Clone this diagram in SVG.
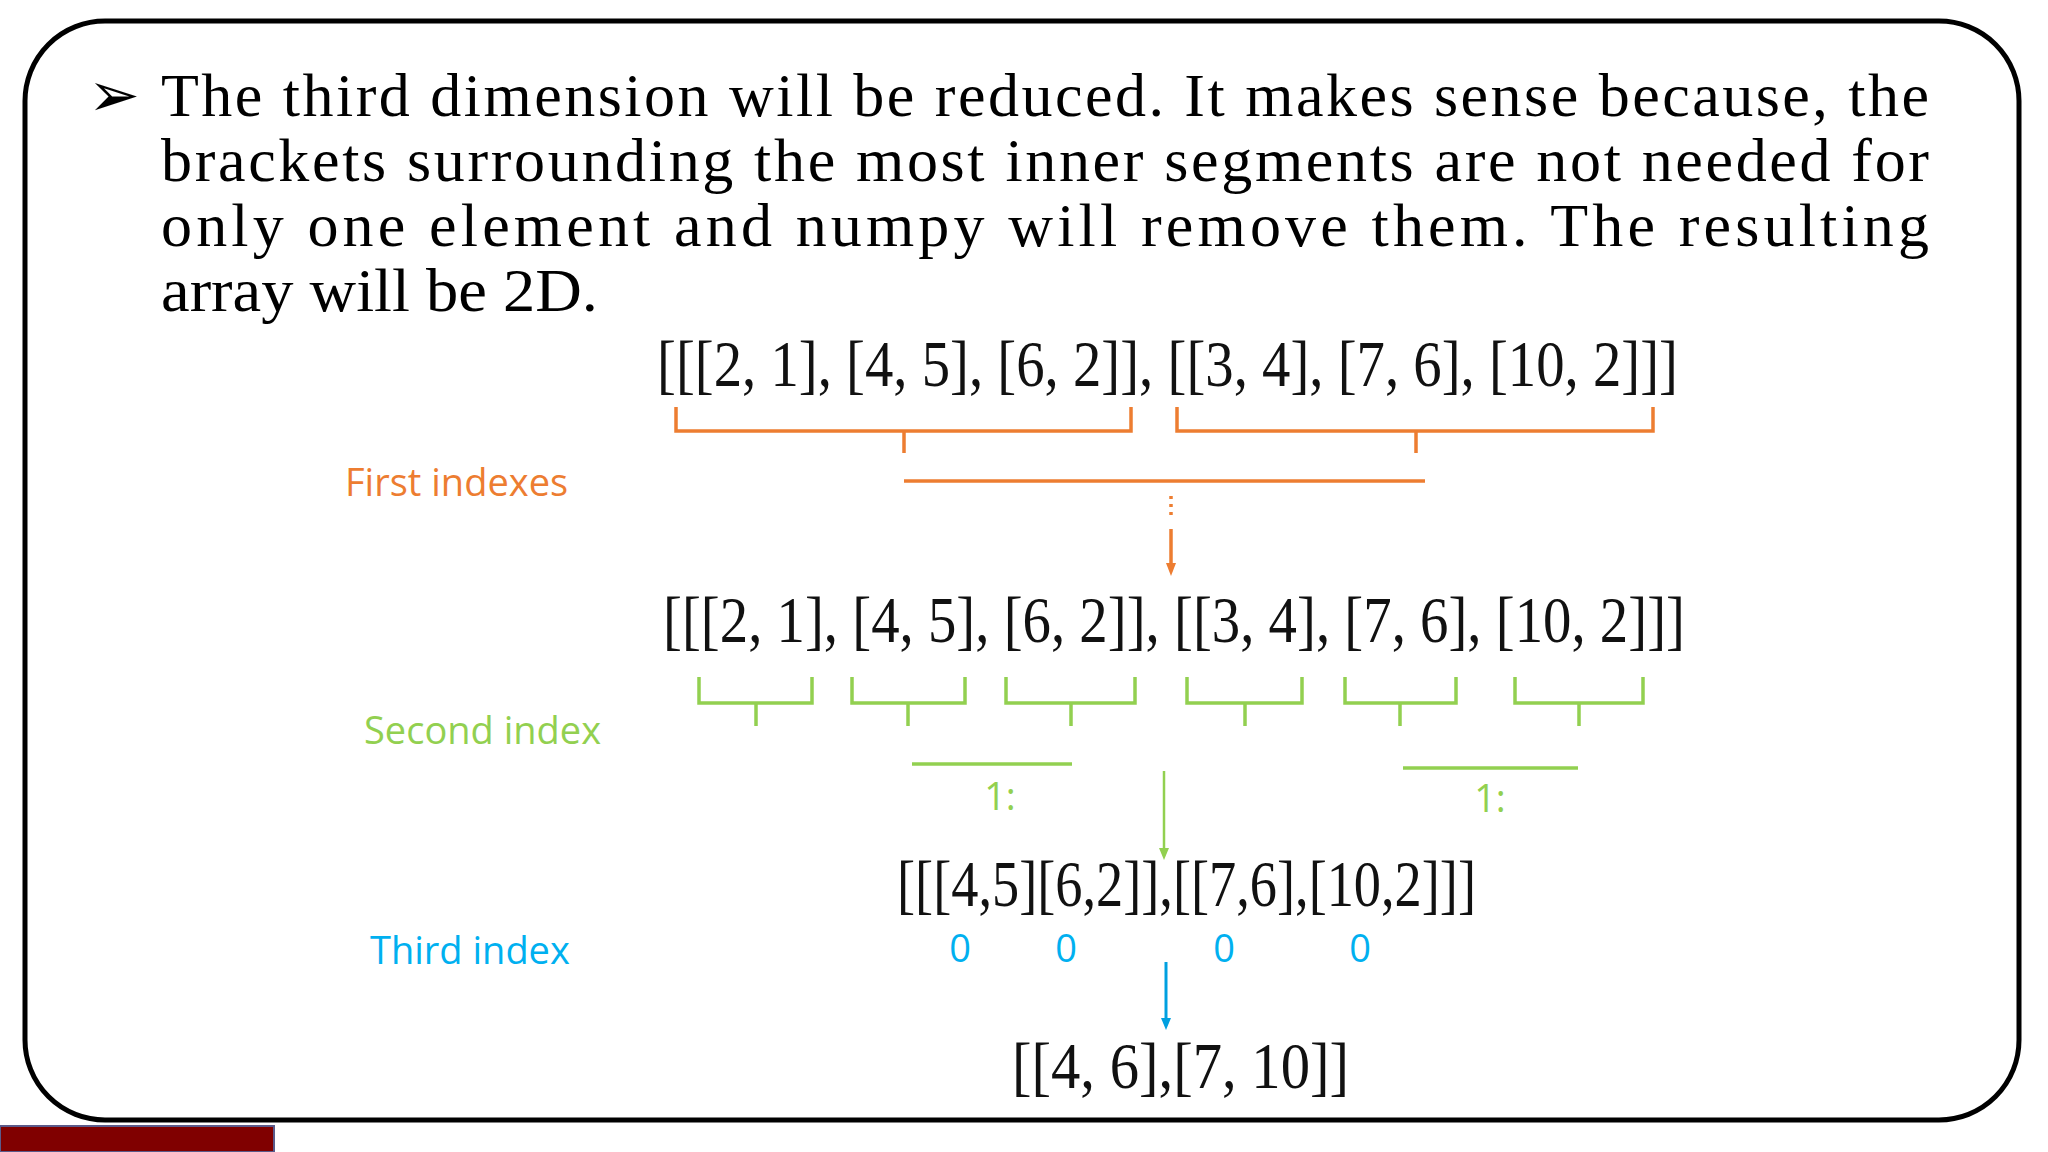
<svg xmlns="http://www.w3.org/2000/svg" width="2048" height="1152" viewBox="0 0 2048 1152">
<defs>
<style>
.body{font-family:"Liberation Serif",serif;font-size:62px;fill:#000}
.math{font-family:"Liberation Serif",serif;font-size:66px;fill:#111}
.lbl{font-family:"Open Sans","Liberation Sans",sans-serif;font-size:38px}
.or{stroke:#ED7D31;stroke-width:3.5;fill:none}
.gr{stroke:#92D050;stroke-width:3.5;fill:none}
.bl{stroke:#00A0E0;stroke-width:3;fill:none}
</style>
</defs>
<rect width="2048" height="1152" fill="#fff"/>
<rect x="25" y="21" width="1994" height="1099" rx="80" fill="none" stroke="#000" stroke-width="5"/>
<rect x="0" y="1126" width="274" height="26" fill="#800000" stroke="#5a5a8a" stroke-width="2"/>
<g id="text">
<text x="88" y="116" class="body" font-size="48">➢</text>
<text x="161" y="116" class="body" textLength="1768" lengthAdjust="spacing">The third dimension will be reduced. It makes sense because, the</text>
<text x="161" y="181" class="body" textLength="1768" lengthAdjust="spacing">brackets surrounding the most inner segments are not needed for</text>
<text x="161" y="246" class="body" textLength="1768" lengthAdjust="spacing">only one element and numpy will remove them. The resulting</text>
<text x="161" y="311" class="body" textLength="437" lengthAdjust="spacingAndGlyphs">array will be 2D.</text>
</g>
<g id="row1"><text x="657" y="386" class="math" textLength="1021" lengthAdjust="spacingAndGlyphs">[[[2, 1], [4, 5], [6, 2]], [[3, 4], [7, 6], [10, 2]]]</text></g>
<g id="row2"><text x="663" y="642" class="math" textLength="1022" lengthAdjust="spacingAndGlyphs">[[[2, 1], [4, 5], [6, 2]], [[3, 4], [7, 6], [10, 2]]]</text></g>
<g id="row3"><text x="897" y="906" class="math" font-size="62" textLength="579" lengthAdjust="spacingAndGlyphs">[[[4,5][6,2]],[[7,6],[10,2]]]</text></g>
<g id="row4"><text x="1012" y="1088" class="math" textLength="337" lengthAdjust="spacingAndGlyphs">[[4, 6],[7, 10]]</text></g>
<g id="labels">
<text x="345" y="496" class="lbl" fill="#ED7D31">First indexes</text>
<text x="364" y="744" class="lbl" fill="#92D050">Second index</text>
<text x="370" y="964" class="lbl" fill="#00B0F0">Third index</text>
<text x="1000" y="810" class="lbl" font-size="30" fill="#92D050" text-anchor="middle">1:</text>
<text x="1490" y="812" class="lbl" font-size="30" fill="#92D050" text-anchor="middle">1:</text>
<g class="lbl" font-size="32" fill="#00B0F0" text-anchor="middle">
<text x="960" y="962">0</text><text x="1066" y="962">0</text><text x="1224" y="962">0</text><text x="1360" y="962">0</text>
</g>
</g>
<g id="connectors">
<path class="or" d="M676,407 V431 H1131 V407 M904,431 V453"/>
<path class="or" d="M1177,407 V431 H1653 V407 M1416,431 V453"/>
<line class="or" x1="904" y1="481" x2="1425" y2="481"/>
<line class="or" x1="1171" y1="496" x2="1171" y2="516" stroke-dasharray="3,5" stroke-width="2.5"/>
<line class="or" x1="1171" y1="529" x2="1171" y2="566" stroke-width="2.5"/>
<path d="M1166,563 L1171,576 L1176,563 Z" fill="#ED7D31"/>
<g class="gr">
<path d="M699,677 V703 H812 V677 M756,703 V726"/>
<path d="M852,677 V703 H965 V677 M908,703 V726"/>
<path d="M1006,677 V703 H1135 V677 M1071,703 V726"/>
<path d="M1187,677 V703 H1302 V677 M1245,703 V726"/>
<path d="M1345,677 V703 H1456 V677 M1400,703 V726"/>
<path d="M1515,677 V703 H1643 V677 M1579,703 V726"/>
<line x1="912" y1="764" x2="1072" y2="764"/>
<line x1="1403" y1="768" x2="1578" y2="768"/>
<line x1="1164" y1="771" x2="1164" y2="852" stroke-width="2.5"/>
<path d="M1159,848 L1164,860 L1169,848 Z" fill="#92D050" stroke="none"/>
</g>
<line class="bl" x1="1166" y1="962" x2="1166" y2="1022"/>
<path d="M1161,1018 L1166,1030 L1171,1018 Z" fill="#00A0E0"/>
</g>
</svg>
